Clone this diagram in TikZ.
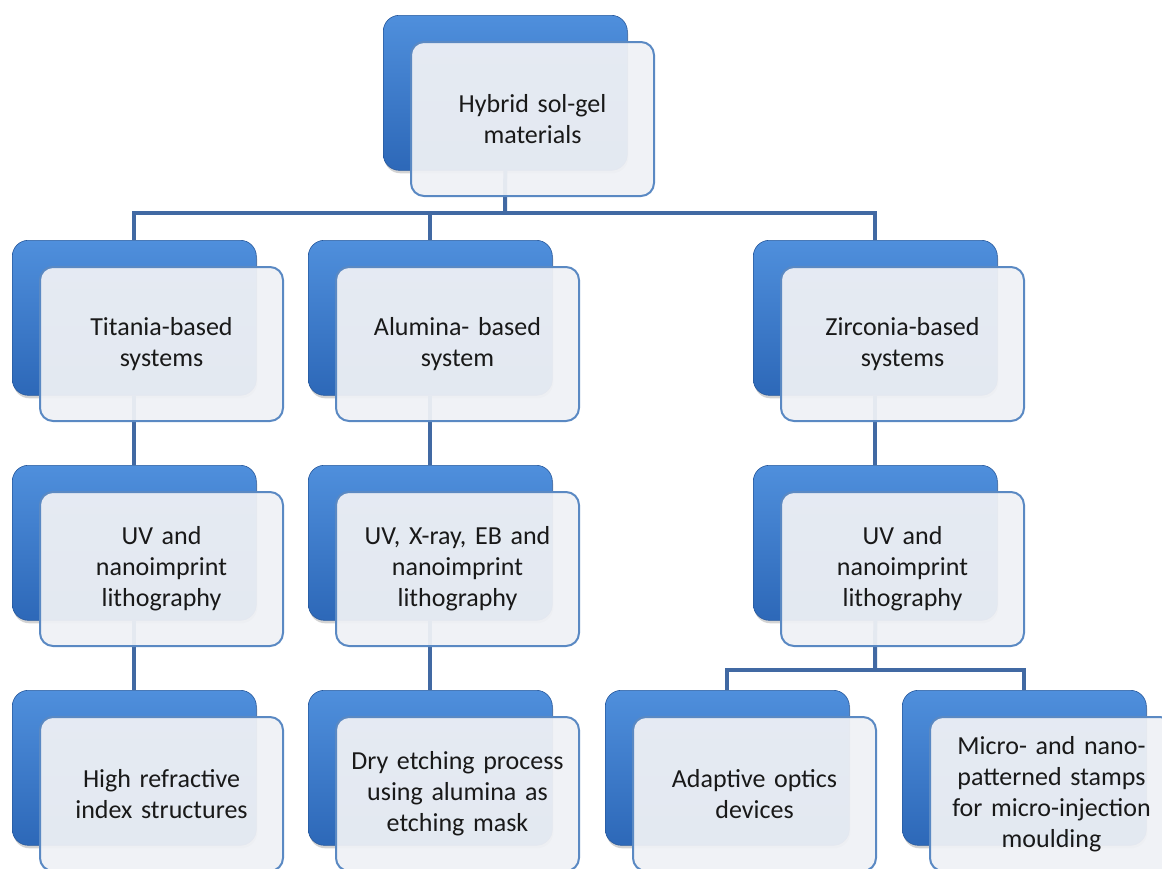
\documentclass[tikz,border=0pt]{standalone}
\usepackage{fontspec}
\setmainfont{Carlito}
\usetikzlibrary{shadows}
\definecolor{backtop}{HTML}{4F8FDC}
\definecolor{backmid}{HTML}{3A7ACC}
\definecolor{backbot}{HTML}{2D68B8}
\definecolor{frontfill}{HTML}{EFF1F5}
\definecolor{frontline}{HTML}{5A89C3}
\definecolor{connc}{HTML}{4169A3}
\tikzset{
 backbox/.style={anchor=north west, minimum width=244pt, minimum height=155pt, inner sep=0pt,
   rounded corners=16pt, top color=backtop, middle color=backmid, bottom color=backbot, draw=backbot!85!black, line width=0.6pt,
   drop shadow={shadow xshift=1pt, shadow yshift=-3pt, opacity=0.35}},
 frontbox/.style={anchor=north west, minimum width=243pt, minimum height=154pt, inner sep=0pt,
   rounded corners=13pt, fill=frontfill, fill opacity=0.94, text opacity=1, draw=frontline, draw opacity=1,
   line width=2pt, text width=238pt, align=center, text=black!90,
   font=\fontsize{26}{31}\selectfont},
 conn/.style={draw=connc, line width=4pt},
}
\begin{document}
\begin{tikzpicture}[x=1pt,y=-1pt]
\useasboundingbox (0,0) rectangle (1162,868);
% back boxes
\node[backbox] (hb) at (383,15) {};
\node[backbox] (tb) at (12,240) {};
\node[backbox] (ab) at (308,240) {};
\node[backbox] (zb) at (753,240) {};
\node[backbox] (t2b) at (12,465) {};
\node[backbox] (a2b) at (308,465) {};
\node[backbox] (z2b) at (753,465) {};
\node[backbox] (t3b) at (12,690) {};
\node[backbox] (a3b) at (308,690) {};
\node[backbox] (o3b) at (605,690) {};
\node[backbox] (m3b) at (902,690) {};
% connectors
\coordinate (bus1) at (505,213);
\coordinate (bus2) at (875,670);
\draw[conn] (hb.south) -- (bus1);
\draw[conn] (tb.north) |- (bus1);
\draw[conn] (ab.north) |- (bus1);
\draw[conn] (zb.north) |- (bus1);
\draw[conn] (tb.south) -- (t2b.north);
\draw[conn] (ab.south) -- (a2b.north);
\draw[conn] (zb.south) -- (z2b.north);
\draw[conn] (t2b.south) -- (t3b.north);
\draw[conn] (a2b.south) -- (a3b.north);
\draw[conn] (z2b.south) -- (bus2);
\draw[conn] (o3b.north) |- (bus2);
\draw[conn] (m3b.north) |- (bus2);
% front boxes
\node[frontbox] (h) at (410,41) {Hybrid sol-gel\\materials};
\node[frontbox] (t) at (39,266) {Titania-based\\systems};
\node[frontbox] (a) at (335,266) {Alumina- based\\system};
\node[frontbox] (z) at (780,266) {Zirconia-based\\systems};
\node[frontbox] (t2) at (39,491) {UV and\\nanoimprint\\lithography};
\node[frontbox] (a2) at (335,491) {UV, X-ray, EB and\\nanoimprint\\lithography};
\node[frontbox] (z2) at (780,491) {UV and\\nanoimprint\\lithography};
\node[frontbox] (t3) at (39,716) {High refractive\\index structures};
\node[frontbox] (a3) at (335,716) {Dry etching process\\using alumina as\\etching mask};
\node[frontbox] (o3) at (632,716) {Adaptive optics\\devices};
\node[frontbox] (m3) at (929,716) {Micro- and nano-\\patterned stamps\\for micro-injection\\moulding};
\end{tikzpicture}
\end{document}
